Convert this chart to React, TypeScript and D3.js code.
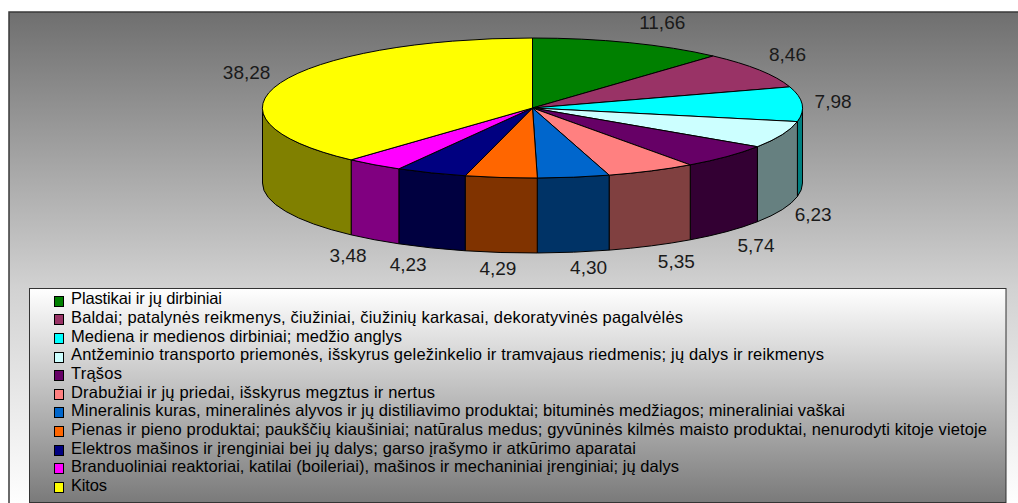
import React from "react";
import * as d3 from "d3";

const categories = [
  "Plastikai ir jų dirbiniai",
  "Baldai; patalynės reikmenys, čiužiniai, čiužinių karkasai, dekoratyvinės pagalvėlės",
  "Mediena ir medienos dirbiniai; medžio anglys",
  "Antžeminio transporto priemonės, išskyrus geležinkelio ir tramvajaus riedmenis; jų dalys ir reikmenys",
  "Trąšos",
  "Drabužiai ir jų priedai, išskyrus megztus ir nertus",
  "Mineralinis kuras, mineralinės alyvos ir jų distiliavimo produktai; bituminės medžiagos; mineraliniai vaškai",
  "Pienas ir pieno produktai; paukščių kiaušiniai; natūralus medus; gyvūninės kilmės maisto produktai, nenurodyti kitoje vietoje",
  "Elektros mašinos ir įrenginiai bei jų dalys; garso įrašymo ir atkūrimo aparatai",
  "Branduoliniai reaktoriai, katilai (boileriai), mašinos ir mechaniniai įrenginiai; jų dalys",
  "Kitos",
];
const values = [11.66, 8.46, 7.98, 6.23, 5.74, 5.35, 4.3, 4.29, 4.23, 3.48, 38.28];
const labels = ["11,66", "8,46", "7,98", "6,23", "5,74", "5,35", "4,30", "4,29", "4,23", "3,48", "38,28"];
const colors = ["#008000", "#993366", "#00FFFF", "#CCFFFF", "#660066", "#FF8080", "#0066CC", "#FF6600", "#000080", "#FF00FF", "#FFFF00"];
const labelNudgeX = [33, 28, 31, 31, 29, 25, 15, -3, -23, -26, -34];
const labelNudgeY = [-19, -14, -1, 6, 15.5, 17, 17, 17.5, 18, 17, -9];
const legendTextWidths = [151, 612, 331, 753, 51, 364, 774, 916, 565, 608, 36];

const cx = 532.5, cy = 108, rx = 270, ry = 70, depth = 75;
const FONT = "'Liberation Sans', Arial, sans-serif";

const px = (a: number) => cx + rx * Math.sin(a);
const py = (a: number) => cy - ry * Math.cos(a);
const rimY = (a: number) => py(a) + (Math.cos(a) < 0 && Math.sin(a) > -0.7 ? depth : 0);
const darken = (c: string) => {
  const r = d3.rgb(c);
  return d3.rgb(r.r / 2, r.g / 2, r.b / 2).formatHex();
};

export default function App() {
  const pie = d3.pie<number>().sort(null).startAngle(0).endAngle(2 * Math.PI);
  const arcs = pie(values);
  const unitArc = d3.arc<d3.PieArcDatum<number>>().innerRadius(0).outerRadius(1);
  const legendY = d3.scaleLinear().domain([0, categories.length - 1]).range([300.6, 487]);

  const sidePath = (a0: number, a1: number) => {
    const s = Math.max(a0, Math.PI / 2);
    const e = Math.min(a1, (3 * Math.PI) / 2);
    if (e <= s) return null;
    return `M${px(s)},${py(s)}A${rx},${ry} 0 0 1 ${px(e)},${py(e)}L${px(e)},${py(e) + depth}A${rx},${ry} 0 0 0 ${px(s)},${py(s) + depth}Z`;
  };

  return (
    <svg width={1018} height={503} style={{ position: "absolute", left: 0, top: 0, display: "block" }} fontFamily={FONT}>
      <defs>
        <linearGradient id="bg" x1="0" y1="0" x2="0" y2="1">
          <stop offset="0" stopColor="#6f6f6f" />
          <stop offset="0.56" stopColor="#d2d2d2" />
          <stop offset="1" stopColor="#ffffff" />
        </linearGradient>
        <linearGradient id="lg" x1="0" y1="0" x2="0" y2="1">
          <stop offset="0" stopColor="#ffffff" />
          <stop offset="1" stopColor="#7a7a7a" />
        </linearGradient>
      </defs>
      <rect x={0} y={0} width={1018} height={503} fill="#fff" />
      <rect x={9} y={12} width={1012} height={495} fill="url(#bg)" stroke="#3a3a3a" strokeWidth={1.5} />
      {arcs.map((d, i) => {
        const p = sidePath(d.startAngle, d.endAngle);
        return p ? <path key={i} d={p} fill={darken(colors[i])} stroke="#000" strokeWidth={1} strokeLinejoin="round" /> : null;
      })}
      <g transform={`translate(${cx},${cy}) scale(${rx},${ry})`}>
        {arcs.map((d, i) => (
          <path key={i} d={unitArc(d) as string} fill={colors[i]} stroke="#000" strokeWidth={1} vectorEffect="non-scaling-stroke" strokeLinejoin="round" />
        ))}
      </g>
      {labels.map((t, i) => {
        const mid = (arcs[i].startAngle + arcs[i].endAngle) / 2;
        return (
          <text key={t} x={px(mid) + labelNudgeX[i]} y={rimY(mid) + labelNudgeY[i]} fontSize={19} fill="#1a1a1a" textAnchor="middle" dominantBaseline="middle">{t}</text>
        );
      })}
      <rect x={29.5} y={288.5} width={976.5} height={214} fill="url(#lg)" stroke="#333" strokeWidth={1} />
      {categories.map((t, i) => (
        <g key={t}>
          <rect x={54.5} y={Math.round(legendY(i)) - 4.5} width={9} height={10} fill={colors[i]} stroke="#000" strokeWidth={1} />
          <text x={71} y={legendY(i) - 0.5} fontSize={16.5} fill="#000" dominantBaseline="middle" textLength={legendTextWidths[i]} lengthAdjust="spacing">{t}</text>
        </g>
      ))}
    </svg>
  );
}
